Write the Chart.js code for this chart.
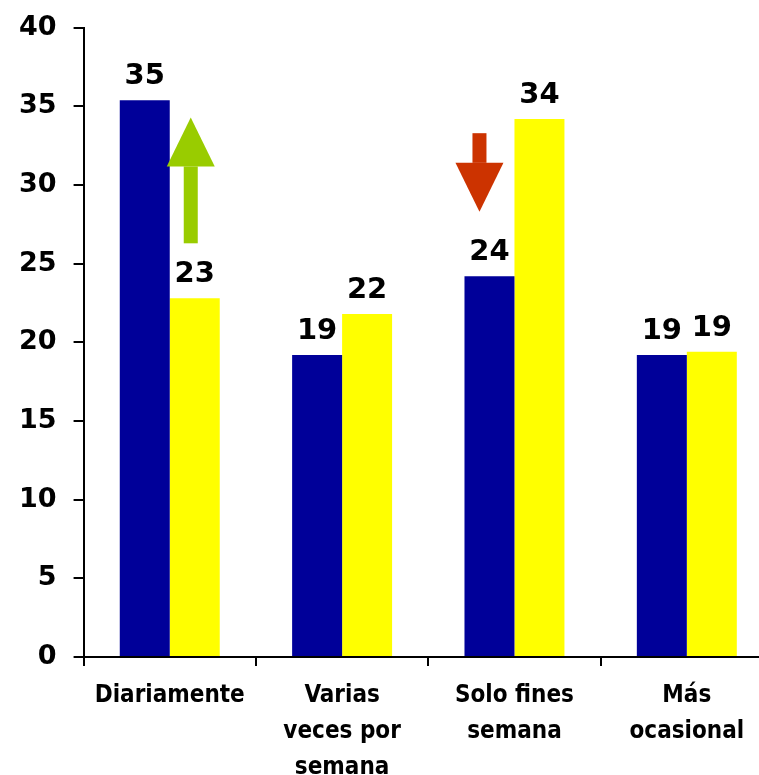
<!DOCTYPE html>
<html>
<head>
<meta charset="utf-8">
<script src="https://cdn.jsdelivr.net/npm/chart.js@4/dist/chart.umd.min.js"></script>
<style>
    html, body { margin: 0; padding: 0; background: #fff; overflow: hidden; }
    #wrap { width: 759px; height: 775px; overflow: hidden; }
    #box { width: 773px; height: 798px; }
</style>
</head>
<body>
<div id="wrap"><div id="box"><canvas id="freq-chart"></canvas></div></div>
<script>
const categories = ['Diariamente', ['Varias', 'veces por', 'semana'], ['Solo fines', 'semana'], ['Más', 'ocasional']];
const blueValues = [35.4, 19.2, 24.2, 19.2];
const yellowValues = [22.8, 21.8, 34.2, 19.4];
const yTicks = [0, 5, 10, 15, 20, 25, 30, 35, 40];

// arrows: category index, x offset from category centre, and value range (tail -> tip)
const upArrow = { index: 0, dx: 21, from: 26.3, to: 34.3, color: '#99CC00' };
const downArrow = { index: 2, dx: -35, from: 33.3, to: 28.3, color: '#CC3300' };

const FONT = '"DejaVu Sans", sans-serif';
const FONT_NARROW = '"DejaVu Sans Condensed", "DejaVu Sans", sans-serif';

const valueLabels = {
    id: 'valueLabels',
    afterDatasetsDraw(chart) {
        const ctx = chart.ctx;
        ctx.save();
        ctx.font = 'bold 29px ' + FONT;
        ctx.fillStyle = '#000';
        ctx.textAlign = 'center';
        ctx.textBaseline = 'alphabetic';
        chart.data.datasets.forEach((ds, i) => {
            chart.getDatasetMeta(i).data.forEach((bar, j) => {
                ctx.fillText(Math.round(ds.data[j]), bar.x, bar.y - 16);
            });
        });
        ctx.restore();
    }
};

function drawArrow(chart, a) {
    const ctx = chart.ctx;
    const x = chart.scales.x.getPixelForValue(a.index) + a.dx;
    const y = chart.scales.y;
    const tail = y.getPixelForValue(a.from);
    const tip = y.getPixelForValue(a.to);
    const dir = tip < tail ? 1 : -1;
    const headLen = 49;
    const headBase = tip + dir * headLen;
    ctx.save();
    ctx.fillStyle = a.color;
    ctx.fillRect(x - 7, Math.min(tail, headBase), 14, Math.abs(tail - headBase));
    ctx.beginPath();
    ctx.moveTo(x, tip);
    ctx.lineTo(x - 24, headBase);
    ctx.lineTo(x + 24, headBase);
    ctx.closePath();
    ctx.fill();
    ctx.restore();
}

const arrows = {
    id: 'arrows',
    afterDatasetsDraw(chart) {
        drawArrow(chart, upArrow);
        drawArrow(chart, downArrow);
    }
};

const ctx = document.getElementById('freq-chart').getContext('2d');
new Chart(ctx, {
    type: 'bar',
    data: {
        labels: categories,
        datasets: [{
            label: 'Antes',
            data: blueValues,
            backgroundColor: '#000099',
            categoryPercentage: 0.58,
            barPercentage: 1
        }, {
            label: 'Ahora',
            data: yellowValues,
            backgroundColor: '#FFFF00',
            categoryPercentage: 0.58,
            barPercentage: 1
        }]
    },
    options: {
        responsive: true,
        maintainAspectRatio: false,
        animation: false,
        layout: { padding: { top: 2, right: 0, left: 2, bottom: 0 } },
        plugins: {
            legend: { display: false },
            tooltip: { enabled: false }
        },
        scales: {
            x: {
                grid: {
                    display: true,
                    drawOnChartArea: false,
                    offset: true,
                    color: '#000',
                    lineWidth: 2,
                    tickLength: 9
                },
                border: { color: '#000', width: 2 },
                ticks: {
                    color: '#000',
                    font: { family: FONT_NARROW, size: 24, weight: 'bold', lineHeight: 1.5 },
                    padding: 12,
                    maxRotation: 0,
                    autoSkip: false
                }
            },
            y: {
                min: 0,
                max: 40,
                afterBuildTicks(scale) {
                    scale.ticks = yTicks.map(v => ({ value: v }));
                },
                grid: {
                    display: true,
                    drawOnChartArea: false,
                    color: '#000',
                    lineWidth: 2,
                    tickLength: 10
                },
                border: { color: '#000', width: 2 },
                ticks: {
                    color: '#000',
                    font: { family: FONT, size: 27, weight: 'bold', lineHeight: 0.8 },
                    padding: 17
                }
            }
        }
    },
    plugins: [valueLabels, arrows]
});
</script>
</body>
</html>
